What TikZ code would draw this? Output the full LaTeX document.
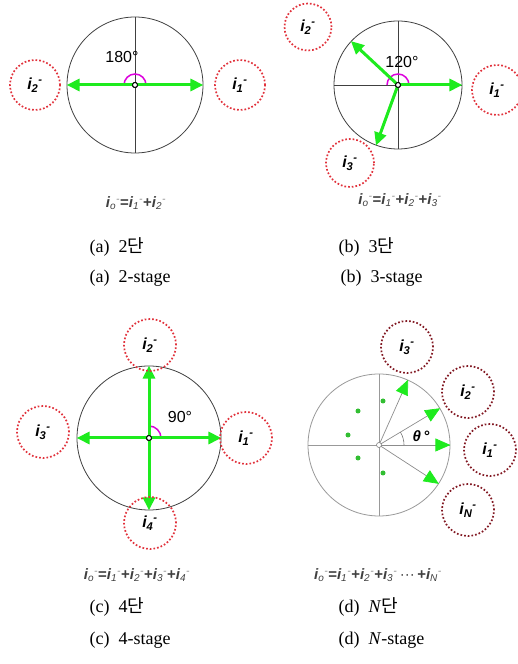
\documentclass[tikz,border=0pt]{standalone}
\usepackage{fontspec}
\setmainfont{Liberation Serif}
\setsansfont{Liberation Sans}
\newfontfamily\krfont{Noto Sans CJK KR}
\usetikzlibrary{arrows.meta}
\definecolor{vgreen}{RGB}{30,235,30}
\definecolor{dgreen}{RGB}{50,190,50}
\definecolor{dotred}{RGB}{225,50,60}
\definecolor{dotmaroon}{RGB}{130,25,35}
\definecolor{arcmag}{RGB}{220,0,220}
\newcommand\cur[1]{{\sffamily\bfseries\itshape i\textsubscript{#1}\textsuperscript{-}}}
\newcommand\fcur[1]{{\sffamily\bfseries\itshape i\textsubscript{\mdseries\fontsize{10}{10}\selectfont #1}\textsuperscript{\mdseries\color{black!45}-}}}
\tikzset{
  phasor/.style={line width=3pt, draw=vgreen, -{Triangle[length=13pt,width=12pt]}},
  nphasor/.style={line width=0.7pt, draw=black!45, -{Triangle[length=15pt,width=13pt,color=vgreen]}},
  ring/.style={circle, draw=dotred, dotted, line width=1.7pt, minimum size=50pt, inner sep=0pt, font=\fontsize{16}{18}\selectfont},
  mring/.style={ring, draw=dotmaroon, minimum size=52pt},
  mainc/.style={circle, draw=black!75, line width=0.8pt, inner sep=0pt},
  grayc/.style={circle, draw=black!40, line width=0.8pt, inner sep=0pt},
  hub/.style={circle, draw=black, line width=1pt, fill=white, minimum size=5pt, inner sep=0pt},
  deg/.style={font=\sffamily\fontsize{16}{18}\selectfont},
  formula/.style={font=\sffamily\bfseries\fontsize{15}{17}\selectfont, text=black!75},
  captxt/.style={anchor=west, font=\fontsize{18}{20}\selectfont},
  gdot/.style={circle, fill=dgreen, minimum size=5pt, inner sep=0pt},
  marc/.style={draw=arcmag, line width=1.5pt}
}
\begin{document}
\begin{tikzpicture}[x=1pt,y=1pt]
\useasboundingbox (0,0) rectangle (518,664);
% ---------- (a)
\node[mainc, minimum size=136pt] (A) at (135,579) {};
\draw[black!75, line width=0.8pt] (A.north) -- (A.south);
\node[hub] (Ao) at (A.center) {};
\draw[marc] ([shift={(11pt,0)}]A.center) arc[start angle=0,end angle=180,radius=11pt];
\draw[phasor] (Ao.center) -- (A.east);
\draw[phasor] (Ao.center) -- (A.west);
\node[hub] at (A.center) {};
\node[deg] (Adeg) at (122,607) {180°};
\node[ring] (a2) at (35,579) {\cur{2}};
\node[ring] (a1) at (240,579) {\cur{1}};
\node[formula] (af) at (136,461) {\fcur{o}=\fcur{1}+\fcur{2}};
\node[captxt] (ac1) at (86,417) {(a)\ \ 2{\krfont 단}};
\node[captxt] (ac2) at (86,386) {(a)\ \ 2-stage};
% ---------- (b)
\node[mainc, minimum size=128pt] (B) at (398,579) {};
\draw[black!75, line width=0.8pt] (B.north) -- (B.south) (B.west) -- (B.east);
\node[hub] (Bo) at (B.center) {};
\draw[marc] ([shift={(11pt,0)}]B.center) arc[start angle=0,end angle=180,radius=11pt];
\draw[phasor] (Bo.center) -- (B.east);
\draw[phasor] (Bo.center) -- (B.137);
\draw[phasor] (Bo.center) -- (B.250);
\node[hub] at (B.center) {};
\node[deg] (Bdeg) at (402,602) {120°};
\node[ring, minimum size=47pt] (b2) at (308,637) {\cur{2}};
\node[ring] (b1) at (497,574) {\cur{1}};
\node[ring, minimum size=48pt] (b3) at (350,501) {\cur{3}};
\node[formula] (bf) at (400,464) {\fcur{o}=\fcur{1}+\fcur{2}+\fcur{3}};
\node[captxt] (bc1) at (335,417) {(b)\ \ 3{\krfont 단}};
\node[captxt] (bc2) at (337,386) {(b)\ \ 3-stage};
% ---------- (c)
\node[mainc, minimum size=144pt] (C) at (149,226) {};
\node[hub] (Co) at (C.center) {};
\draw[marc] ([shift={(12pt,0)}]C.center) arc[start angle=0,end angle=90,radius=12pt];
\draw[phasor] (Co.center) -- (C.east);
\draw[phasor] (Co.center) -- (C.north);
\draw[phasor] (Co.center) -- (C.west);
\draw[phasor] (Co.center) -- (C.south);
\node[hub] at (C.center) {};
\node[deg] (Cdeg) at (180,247) {90°};
\node[ring, minimum size=52pt] (c2) at (150,319) {\cur{2}};
\node[ring, minimum size=52pt] (c4) at (150,141) {\cur{4}};
\node[ring, minimum size=52pt] (c3) at (43,232) {\cur{3}};
\node[ring, minimum size=52pt] (c1) at (246,226) {\cur{1}};
\node[formula] (cf) at (137,89) {\fcur{o}=\fcur{1}+\fcur{2}+\fcur{3}+\fcur{4}};
\node[captxt] (cc1) at (86,57) {(c)\ \ 4{\krfont 단}};
\node[captxt] (cc2) at (86,24) {(c)\ \ 4-stage};
% ---------- (d)
\node[grayc, minimum size=142pt] (D) at (379,219) {};
\draw[black!40, line width=0.8pt] (D.north) -- (D.south) (D.west) -- (D.east);
\draw[nphasor] (D.center) -- (D.0);
\draw[nphasor] (D.center) -- (D.31);
\draw[nphasor] (D.center) -- (D.66);
\draw[nphasor] (D.center) -- (D.-33);
\draw[black!55, line width=0.6pt] ([shift={(25pt,0)}]D.center) arc[start angle=0,end angle=31,radius=25pt];
\node[circle, draw=black!50, fill=white, line width=0.6pt, minimum size=5pt, inner sep=0pt] (Do) at (D.center) {};
\node[gdot] (d5) at (383,263) {};
\node[gdot] (d6) at (358,253) {};
\node[gdot] (d7) at (348,229) {};
\node[gdot] (d8) at (358,206) {};
\node[gdot] (d9) at (383,191) {};
\node[font=\sffamily\bfseries\itshape\fontsize{15}{17}\selectfont] (Ddeg) at (421,228) {θ\,°};
\node[mring] (d3) at (407,317) {\cur{3}};
\node[mring] (d2) at (468,272) {\cur{2}};
\node[mring] (d1) at (490,214) {\cur{1}};
\node[mring] (dN) at (468,154) {\cur{N}};
\node[formula] (df) at (378,89) {\fcur{o}=\fcur{1}+\fcur{2}+\fcur{3}{\mdseries\,···\,}+\fcur{N}};
\node[captxt] (dc1) at (335,57) {(d)\ \ \textit{N}{\krfont 단}};
\node[captxt] (dc2) at (335,24) {(d)\ \ \textit{N}-stage};
\end{tikzpicture}
\end{document}
